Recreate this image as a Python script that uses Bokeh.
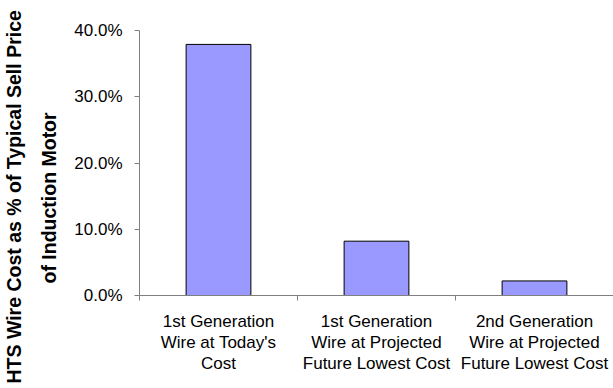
from bokeh.plotting import figure
from bokeh.models import (Range1d, FixedTicker, PrintfTickFormatter, ColumnDataSource, Title)
from bokeh.embed import file_html
from bokeh.resources import INLINE

# ---- data ----
categories = [
    "1st Generation\nWire at Today's\nCost",
    "1st Generation\nWire at Projected\nFuture Lowest Cost",
    "2nd Generation\nWire at Projected\nFuture Lowest Cost",
]
values = [37.9, 8.2, 2.2]          # % of typical sell price
y_ticks = [0, 10, 20, 30, 40]
y_title_lines = ["HTS Wire Cost as % of Typical Sell Price", "of Induction Motor"]

FONT = "Liberation Sans"
AXIS_COLOR = "#808080"

n = len(categories)
centers = [i + 0.5 for i in range(n)]
source = ColumnDataSource(dict(x=centers, top=values))

p = figure(width=613, height=388, output_backend="svg", toolbar_location=None,
           x_range=Range1d(0, n), y_range=Range1d(0, 40),
           min_border_left=138, min_border_right=0, min_border_top=30, min_border_bottom=93)
p.outline_line_color = None
p.xgrid.visible = False
p.ygrid.visible = False
p.background_fill_color = "white"
p.border_fill_color = "white"

p.vbar(x="x", top="top", bottom=0, width=0.41, source=source,
       fill_color="#9999FF", line_color="black", line_width=1)

# x axis: labels at category centers, small ticks at category boundaries
xa = p.xaxis[0]
xa.ticker = FixedTicker(ticks=centers, minor_ticks=list(range(n + 1)))
xa.major_label_overrides = {c: lab for c, lab in zip(centers, categories)}
xa.major_tick_out = 0
xa.major_tick_in = 0
xa.minor_tick_out = 5
xa.minor_tick_in = 0
xa.minor_tick_line_color = AXIS_COLOR
xa.axis_line_color = AXIS_COLOR
xa.major_label_text_font = FONT
xa.major_label_text_font_size = "17px"
xa.major_label_text_color = "black"
xa.major_label_text_line_height = 1.13
xa.major_label_standoff = 11

# y axis
ya = p.yaxis[0]
ya.ticker = FixedTicker(ticks=y_ticks)
ya.formatter = PrintfTickFormatter(format="%.1f%%")
ya.major_tick_out = 5
ya.major_tick_in = 0
ya.minor_tick_line_color = None
ya.major_tick_line_color = AXIS_COLOR
ya.axis_line_color = AXIS_COLOR
ya.major_label_text_font = FONT
ya.major_label_text_font_size = "17px"
ya.major_label_text_color = "black"
ya.major_label_standoff = 12

# two-line rotated y title (inner line added first so it sits next to the axis);
# align="left" starts the text at the bottom, shifted by offset
for txt, so, off in zip(reversed(y_title_lines), [23, 0], [12, -88]):
    p.add_layout(Title(text=txt, align="left", offset=off, standoff=so,
                       text_font=FONT, text_font_style="bold", text_font_size="19.5px",
                       text_color="black"), "left")

open("out.html", "w").write(file_html(p, INLINE))
